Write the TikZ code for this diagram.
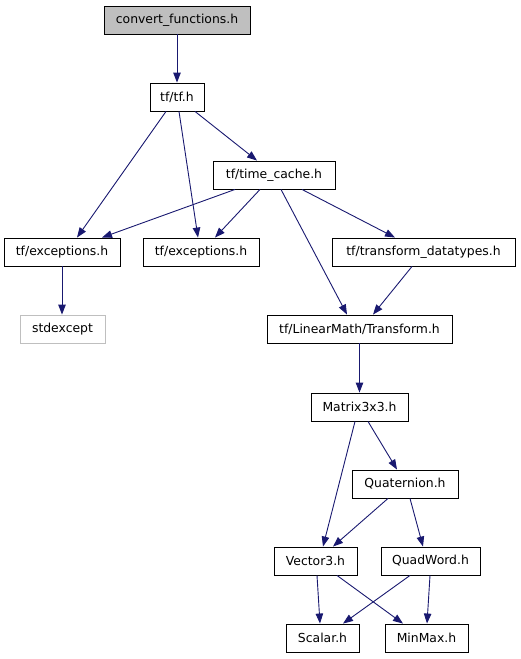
\documentclass[tikz,border=0pt]{standalone}
\usepackage{fontspec}
\setmainfont{DejaVu Sans}
\usetikzlibrary{arrows.meta}
\definecolor{edgec}{HTML}{191970}
\begin{document}
\begin{tikzpicture}[x=1pt,y=-1pt,
  box/.style={draw=black,line width=0.9pt,fill=white,minimum height=28pt,inner sep=0pt,font=\fontsize{12.4}{14}\selectfont},
  edge/.style={draw=edgec,line width=0.9pt,-{Triangle[length=10pt,width=7.5pt]}}]
\useasboundingbox (0,0) rectangle (520,659);
\node[box,fill={rgb,255:red,191;green,191;blue,191},minimum width=146pt] (conv) at (177,20) {convert\_functions.h};
\node[box,minimum width=54pt] (tf) at (177,97) {tf/tf.h};
\node[box,minimum width=122pt] (tc) at (274,175) {tf/time\_cache.h};
\node[box,minimum width=116pt] (exL) at (62,252) {tf/exceptions.h};
\node[box,minimum width=116pt] (exM) at (201,252) {tf/exceptions.h};
\node[box,minimum width=183pt] (td) at (423.5,252) {tf/transform\_datatypes.h};
\node[box,draw={rgb,255:red,191;green,191;blue,191},minimum width=85pt] (std) at (62.5,329) {stdexcept};
\node[box,minimum width=185pt] (tr) at (359.5,329) {tf/LinearMath/Transform.h};
\node[box,minimum width=97pt] (m33) at (359.5,407) {Matrix3x3.h};
\node[box,minimum width=106pt] (q) at (405,484) {Quaternion.h};
\node[box,minimum width=83pt] (v3) at (315.5,561) {Vector3.h};
\node[box,minimum width=99pt] (qw) at (430.5,561) {QuadWord.h};
\node[box,minimum width=73pt] (sc) at (322.5,638) {Scalar.h};
\node[box,minimum width=83pt] (mm) at (426.5,638) {MinMax.h};
\draw[edge] (conv.south) -- (tf.north);
\draw[edge] ([xshift=-11pt]tf.south) -- ([xshift=15pt]exL.north);
\draw[edge] ([xshift=2pt]tf.south) -- ([xshift=-3pt]exM.north);
\draw[edge] ([xshift=18pt]tf.south) -- ([xshift=-17pt]tc.north);
\draw[edge] ([xshift=-39pt]tc.south) -- ([xshift=40pt]exL.north);
\draw[edge] ([xshift=-14pt]tc.south) -- ([xshift=14pt]exM.north);
\draw[edge] ([xshift=7pt]tc.south) -- ([xshift=-12.5pt]tr.north);
\draw[edge] ([xshift=28pt]tc.south) -- ([xshift=-28.5pt]td.north);
\draw[edge] ([xshift=-11.5pt]td.south) -- ([xshift=13.5pt]tr.north);
\draw[edge] (exL.south) -- (exL.south |- std.north);
\draw[edge] (tr.south) -- (m33.north);
\draw[edge] ([xshift=-4.5pt]m33.south) -- ([xshift=7.5pt]v3.north);
\draw[edge] ([xshift=8.5pt]m33.south) -- ([xshift=-8pt]q.north);
\draw[edge] ([xshift=-17pt]q.south) -- ([xshift=17.5pt]v3.north);
\draw[edge] ([xshift=5pt]q.south) -- ([xshift=-7.5pt]qw.north);
\draw[edge] ([xshift=1.5pt]v3.south) -- ([xshift=-2.5pt]sc.north);
\draw[edge] ([xshift=21.5pt]v3.south) -- ([xshift=-23.5pt]mm.north);
\draw[edge] ([xshift=-20.5pt]qw.south) -- ([xshift=20.5pt]sc.north);
\draw[edge] ([xshift=-0.5pt]qw.south) -- ([xshift=0.5pt]mm.north);
\end{tikzpicture}
\end{document}
